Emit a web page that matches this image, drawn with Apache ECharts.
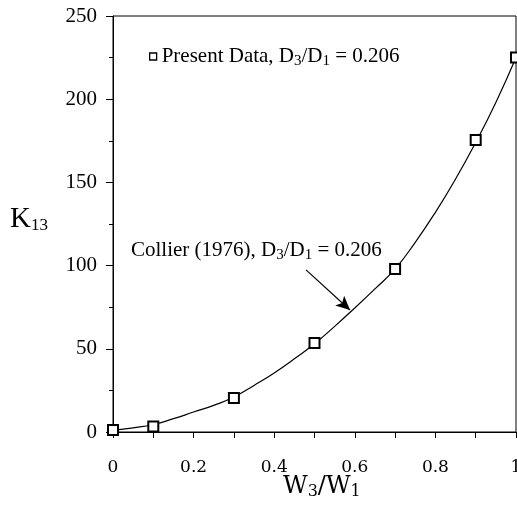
<!DOCTYPE html>
<html>
<head>
<meta charset="utf-8">
<script src="https://cdn.jsdelivr.net/npm/echarts@6/dist/echarts.min.js"></script>
<style>
html,body{margin:0;padding:0;background:#fff;}
#c{width:517px;height:508px;}
</style>
</head>
<body>
<div id="c"></div>
<script>
// Measured data (Present Data, D3/D1 = 0.206)
var dataX = [0, 0.1, 0.3, 0.5, 0.7, 0.9, 1.0];
var dataY = [1.2, 3.3, 20.5, 53.5, 98, 175.5, 225];
// Collier (1976) curve
var curveX = [0, 0.05, 0.1, 0.15, 0.2, 0.25, 0.3, 0.35, 0.4, 0.45, 0.5, 0.55, 0.6, 0.65, 0.7, 0.75, 0.8, 0.85, 0.9, 0.95, 1.0];
var curveY = [1, 2.5, 4.5, 8, 12, 16, 21, 28, 35.5, 44, 53, 63.5, 74.5, 86, 98, 114, 132, 152, 174, 198, 225];
// Axis ticks
var xTicks = [0, 0.2, 0.4, 0.6, 0.8, 1];
var yTicks = [0, 50, 100, 150, 200, 250];
// Annotation arrow (data coords): from label to curve
var arrowFrom = [0.479, 97.4];
var arrowTo = [0.588, 73.3];

var serif = '"Liberation Serif", "Times New Roman", serif';
var serif2 = '"DejaVu Serif", serif';

var chart = echarts.init(document.getElementById('c'), null, {renderer: 'canvas'});
var subRich = {
  n: {fontFamily: serif, fontSize: 21, color: '#000', lineHeight: 24},
  s: {fontFamily: serif, fontSize: 15, color: '#000', verticalAlign: 'bottom', lineHeight: 14}
};
var option = {
  animation: false,
  backgroundColor: '#fff',
  grid: {left: 113, right: 1, top: 16, bottom: 76, show: true, borderColor: '#000', borderWidth: 1,
    backgroundColor: 'transparent', containLabel: false, outerBoundsMode: 'none'},
  legend: {
    left: 149, top: 46, padding: 0,
    data: [{name: 'Present Data', icon: 'rect', itemStyle: {color: '#fff', borderColor: '#000', borderWidth: 1.3}}],
    itemWidth: 7, itemHeight: 7,
    formatter: function () { return '{n|Present Data, D}{s|3}{n|/D}{s|1}{n| = 0.206}'; },
    textStyle: {rich: subRich}
  },
  xAxis: {
    type: 'value', min: xTicks[0], max: xTicks[xTicks.length - 1], interval: 0.2,
    axisLine: {lineStyle: {color: '#000', width: 1}},
    axisTick: {show: true, inside: false, length: 6, lineStyle: {color: '#000'}},
    minorTick: {show: true, splitNumber: 2, length: 6, lineStyle: {color: '#000'}},
    splitLine: {show: false},
    axisLabel: {fontFamily: serif2, fontSize: 17, color: '#000', margin: 27,
      formatter: function (v) { return String(+v.toFixed(1)); }}
  },
  yAxis: {
    type: 'value', min: yTicks[0], max: yTicks[yTicks.length - 1], interval: 50,
    axisLine: {lineStyle: {color: '#000', width: 1}},
    axisTick: {show: true, inside: false, length: 7, lineStyle: {color: '#000'}},
    minorTick: {show: true, splitNumber: 2, length: 4, lineStyle: {color: '#000'}},
    splitLine: {show: false},
    axisLabel: {fontFamily: serif, fontSize: 21, color: '#000', margin: 16}
  },
  series: [
    {
      name: 'Collier (1976)', type: 'line', smooth: true, showSymbol: false, symbol: 'none',
      data: curveX.map(function (x, i) { return [x, curveY[i]]; }),
      lineStyle: {color: '#000', width: 1.2},
      markLine: {
        silent: true, symbol: ['none', 'arrow'], symbolSize: [10, 14],
        lineStyle: {color: '#000', width: 1.2, type: 'solid'},
        label: {show: false},
        data: [[{coord: arrowFrom}, {coord: arrowTo}]]
      },
      z: 2
    },
    {
      name: 'Present Data', type: 'scatter', symbol: 'rect', symbolSize: 10,
      data: dataX.map(function (x, i) { return [x, dataY[i]]; }),
      itemStyle: {color: '#fff', borderColor: '#000', borderWidth: 2, opacity: 1},
      z: 3
    }
  ],
  graphic: [
    {
      type: 'text', left: 131, top: 240,
      style: {text: '{n|Collier (1976), D}{s|3}{n|/D}{s|1}{n| = 0.206}', rich: subRich}
    },
    {
      type: 'text', left: 10, top: 205,
      style: {text: '{n|K}{s|13}', rich: {
        n: {fontFamily: serif, fontSize: 29, color: '#000', lineHeight: 30},
        s: {fontFamily: serif, fontSize: 17, color: '#000', verticalAlign: 'bottom', lineHeight: 8}
      }}
    },
    {
      type: 'text', left: 283, top: 475,
      style: {text: '{n|W}{s|3}{n|/W}{s|1}', rich: {
        n: {fontFamily: serif2, fontSize: 24, color: '#000', lineHeight: 26},
        s: {fontFamily: serif2, fontSize: 16, color: '#000', verticalAlign: 'bottom', lineHeight: 6}
      }}
    }
  ]
};
chart.setOption(option);
</script>
</body>
</html>
